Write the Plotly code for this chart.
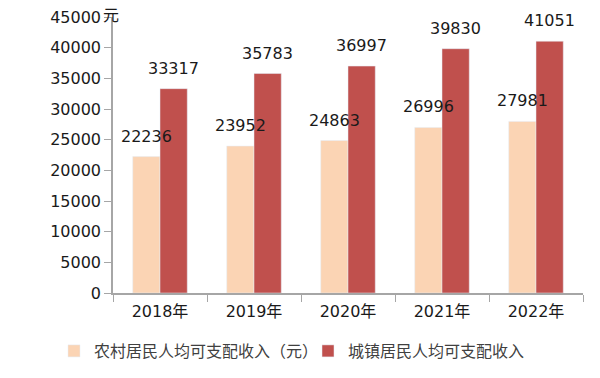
import plotly.graph_objects as go

years = ["2018年", "2019年", "2020年", "2021年", "2022年"]
rural = [22236, 23952, 24863, 26996, 27981]
urban = [33317, 35783, 36997, 39830, 41051]
rural_name = "农村居民人均可支配收入（元）"
urban_name = "城镇居民人均可支配收入"
y_ticks = [0, 5000, 10000, 15000, 20000, 25000, 30000, 35000, 40000, 45000]
y_ticktext = [str(v) for v in y_ticks]

FONT = "DejaVu Sans, Noto Sans CJK SC, sans-serif"
LEG_FONT = "Noto Sans CJK SC, sans-serif"
C_RURAL = "#FBD4B4"
C_URBAN = "#C0504D"

fig = go.Figure()
fig.add_trace(go.Bar(x=years, y=rural, name=rural_name, marker_color=C_RURAL, legend="legend"))
fig.add_trace(go.Bar(x=years, y=urban, name=urban_name, marker_color=C_URBAN, legend="legend2"))

for i, yr in enumerate(years):
    fig.add_annotation(x=yr, y=rural[i], text=str(rural[i]), showarrow=False,
                       xshift=-13.5, yshift=9, yanchor="bottom",
                       font=dict(family=FONT, size=16, color="#1a1a1a"))
    fig.add_annotation(x=yr, y=urban[i], text=str(urban[i]), showarrow=False,
                       xshift=13.5, yshift=9, yanchor="bottom",
                       font=dict(family=FONT, size=16, color="#1a1a1a"))

fig.add_annotation(x=0, xref="paper", y=45000, yref="y", text="元", showarrow=False,
                   xanchor="center", yanchor="middle", xshift=-2, yshift=2,
                   font=dict(family=FONT, size=16, color="#1a1a1a"))

leg_common = dict(orientation="h", yref="container", xref="container", yanchor="middle",
                  y=1 - 351 / 378, xanchor="left",
                  font=dict(family=LEG_FONT, size=16, color="#404040"),
                  itemwidth=30, bgcolor="rgba(0,0,0,0)")

fig.update_layout(
    width=600, height=378,
    margin=dict(l=113, r=17, t=17, b=85),
    paper_bgcolor="white", plot_bgcolor="white",
    barmode="group", bargap=0.42, bargroupgap=0,
    font=dict(family=FONT, size=16, color="#1a1a1a"),
    showlegend=True,
    legend=dict(leg_common, x=(73 - 19) / 600),
    legend2=dict(leg_common, x=(327 - 19) / 600),
)
fig.update_xaxes(showline=True, linecolor="#A6A6A6", linewidth=1.5,
                 ticks="outside", tickson="boundaries", ticklen=7, tickcolor="#A6A6A6",
                 ticklabelstandoff=3,
                 tickfont=dict(family=FONT, size=16, color="#1a1a1a"), showgrid=False,
                 automargin=False)
fig.update_yaxes(range=[0, 45000], tickvals=y_ticks, ticktext=y_ticktext, showline=True,
                 linecolor="#A6A6A6", linewidth=1.5, ticks="outside", ticklen=7,
                 tickcolor="#A6A6A6", showgrid=False, zeroline=False, automargin=False,
                 tickfont=dict(family=FONT, size=16, color="#1a1a1a"))

fig.write_html("out.html", config={"displayModeBar": False},
               post_script="document.body.style.margin='0';")
